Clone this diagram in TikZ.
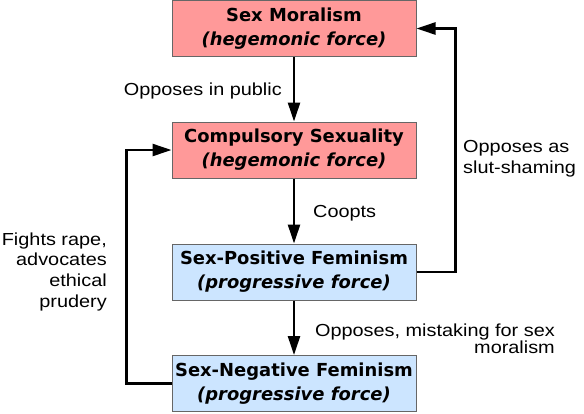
\documentclass[tikz,border=0pt]{standalone}
\usepackage{fontspec}
\usepackage{tikz}
\usetikzlibrary{arrows.meta}
\newfontfamily\boxfont{DejaVu Sans}
\newfontfamily\notefont[FakeStretch=1.14]{Liberation Sans}
\definecolor{hegred}{HTML}{FF9999}
\definecolor{progblue}{HTML}{CCE5FF}
\tikzset{
    forcebox/.style={draw=black!60, line width=1bp, minimum width=244bp, minimum height=56bp, align=center, inner sep=0pt, font=\boxfont\bfseries\fontsize{18}{24}\selectfont},
    hegbox/.style={forcebox, fill=hegred},
    progbox/.style={forcebox, fill=progblue},
    flow/.style={line width=2.5bp, -{Triangle[length=19bp, width=12bp]}},
    note/.style={inner sep=0pt, font=\notefont\fontsize{17.5}{21}\selectfont}
}
\begin{document}
\begin{tikzpicture}[x=1bp, y=-1bp]
    \useasboundingbox (0, 0) rectangle (584, 413);

    % Boxes
    \node[hegbox] (moral) at (294, 28.5) {Sex Moralism\\\textit{(hegemonic force)}};
    \node[hegbox] (compuls) at (294, 150) {Compulsory Sexuality\\\textit{(hegemonic force)}};
    \node[progbox] (sexpos) at (294, 272) {Sex-Positive Feminism\\\textit{(progressive force)}};
    \node[progbox] (sexneg) at (294, 383.5) {Sex-Negative Feminism\\\textit{(progressive force)}};

    % Arrows
    \draw[flow] (moral) -- (compuls);
    \draw[flow] (compuls) -- (sexpos);
    \draw[flow] (sexpos) -- (sexneg);
    \draw[flow] (sexpos.east) -- ++(39, 0) |- (moral.east);
    \draw[flow] (sexneg.west) -- ++(-45, 0) |- (compuls.west);

    % Labels (base = last line)
    \node[note, anchor=base east] (public) at (282, 95) {Opposes in public};
    \node[note, anchor=base west] (coopts) at (313, 217) {Coopts};
    \node[note, anchor=base east, align=right, font=\notefont\fontsize{17.5}{16.5}\selectfont] (mistaking) at (555, 353) {Opposes, mistaking for sex\\moralism};
    \node[note, anchor=base west, align=left] (slut) at (463, 173) {Opposes as\\slut-shaming};
    \node[note, anchor=base east, align=right, font=\notefont\fontsize{17.5}{20.7}\selectfont] (rape) at (107, 307) {Fights rape,\\advocates\\ethical\\prudery};
\end{tikzpicture}
\end{document}
